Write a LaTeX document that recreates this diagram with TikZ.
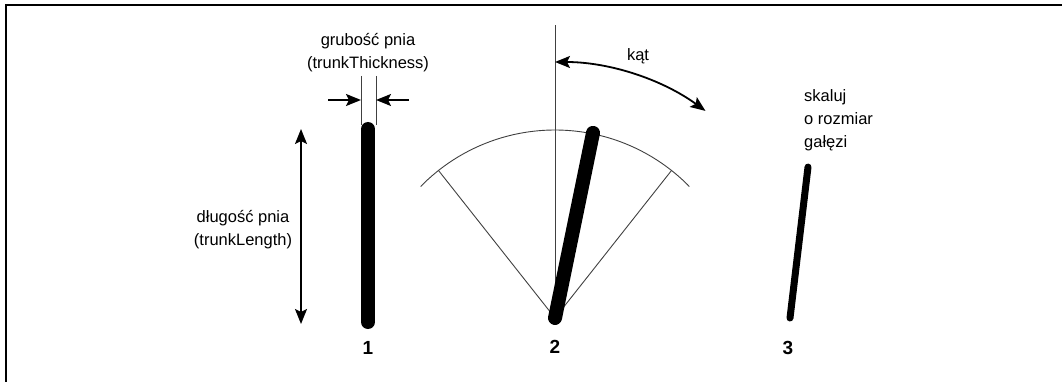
\documentclass[tikz,border=0pt]{standalone}
\usepackage{fontspec}
\setmainfont{Liberation Sans}
\usetikzlibrary{arrows.meta}

\begin{document}
\begin{tikzpicture}[x=1pt,y=-1pt,
		lbl/.style={font=\fontsize{16.5}{23}\selectfont, align=center, inner sep=0pt},
		num/.style={font=\fontsize{19}{20}\selectfont\bfseries, inner sep=0pt},
		guide/.style={black!75, line width=0.9pt},
		trunk/.style={line width=14pt, line cap=round},
		tip/.style={-{Stealth[length=15pt,width=12pt,inset=3pt]}},
		tips/.style={{Stealth[length=15pt,width=12pt,inset=3pt]}-{Stealth[length=15pt,width=12pt,inset=3pt]}}]
		\useasboundingbox (0,0) rectangle (1062,382);
		% frame (top and left only)
		\draw[line width=2pt] (6,382) -- (6,5) -- (1062,5);
		% 1: trunk with thickness and length
		\coordinate (t1b) at (368,322);
		\coordinate (t1t) at (368,129);
		\draw[trunk] (t1b) -- (t1t);
		\coordinate (gL) at (361,76);
		\coordinate (gR) at (376,76);
		\draw[guide] (gL) -- ++(0,49);
		\draw[guide] (gR) -- ++(0,49);
		\coordinate (aL) at (328,100);
		\coordinate (aR) at (409,100);
		\draw[tip, line width=1.8pt] (aL) -- (gL |- aL);
		\draw[tip, line width=1.8pt] (aR) -- (gR |- aR);
		\node[lbl] (thick) at (368,53) {grubość pnia\\(trunkThickness)};
		\coordinate (lT) at (301,129);
		\coordinate (lB) at (301,324);
		\draw[tips, line width=1.8pt] (lT) -- (lB);
		\node[lbl] (len) at (243,230) {długość pnia\\(trunkLength)};
		\node[num] (n1) at (368,348) {1};
		% 2: rotate by angle
		\coordinate (piv) at (555,318);
		\draw[guide] (piv) -- ++(0,-293);
		\draw[guide] (piv) ++(-135.6:188) arc[start angle=-135.6, end angle=-44.4, radius=188];
		\draw[guide] (piv) -- ++(-128.3:188);
		\draw[guide] (piv) -- ++(-51.7:188);
		\draw[trunk] (piv) -- ++(-78.4:189);
		\draw[tips, line width=1.8pt] (piv) ++(-90:256) arc[start angle=-90, end angle=-54, radius=256];
		\node[lbl] (ang) at (638,56) {kąt};
		\node[num] (n2) at (555,347) {2};
		% 3: scaled branch
		\coordinate (b3) at (790,318);
		\draw[line width=7pt, line cap=round] (b3) -- ++(-83.2:152);
		\node[lbl, align=left, anchor=west] (scl) at (804,120) {skaluj\\o rozmiar\\gałęzi};
		\node[num] (n3) at (788,348) {3};
\end{tikzpicture}
\end{document}
